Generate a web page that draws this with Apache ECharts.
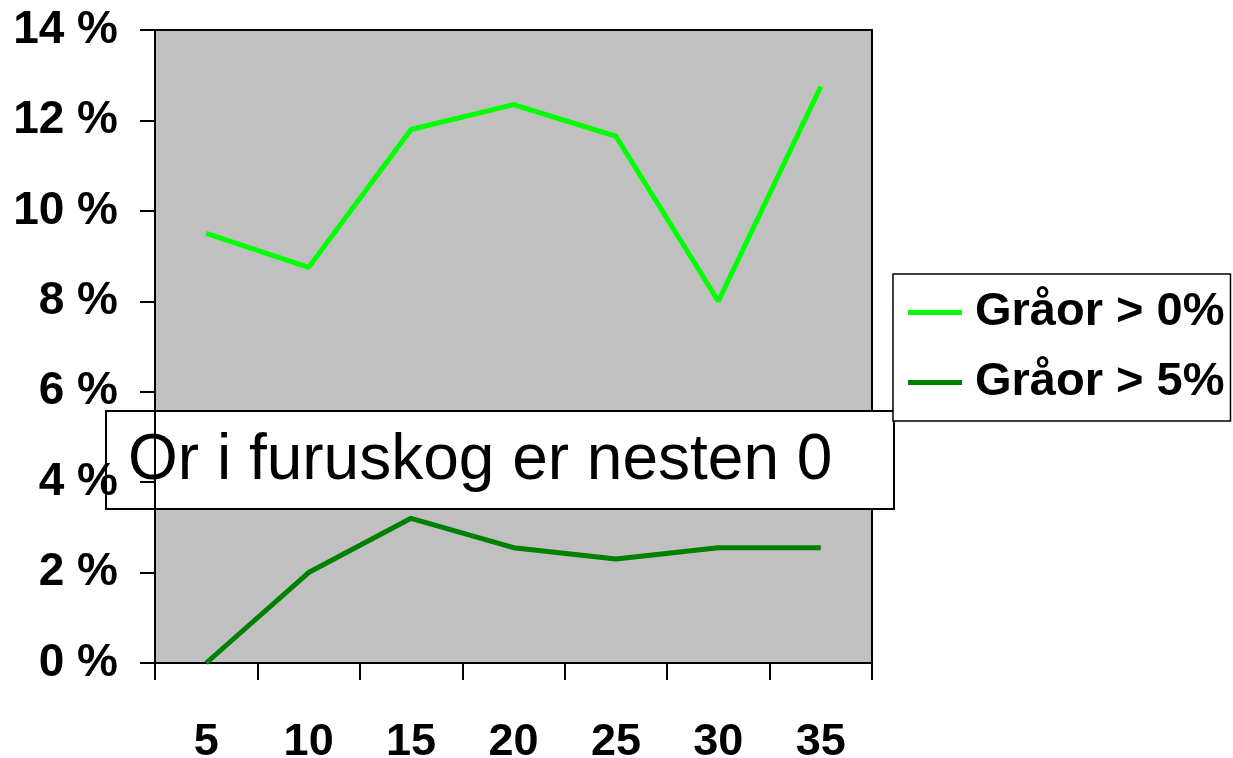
<!DOCTYPE html>
<html>
<head>
<meta charset="utf-8">
<script src="https://cdn.jsdelivr.net/npm/echarts@6/dist/echarts.min.js"></script>
<style>
  html, body { margin: 0; padding: 0; background: #fff; }
  #chart { width: 1233px; height: 758px; }
</style>
</head>
<body>
<div id="chart"></div>
<script>
// data
const categories = ['5', '10', '15', '20', '25', '30', '35']
const graaorOver0 = [9.5, 8.75, 11.8, 12.35, 11.65, 8.0, 12.75]
const graaorOver5 = [0.0, 2.0, 3.2, 2.55, 2.3, 2.55, 2.55]
const seriesNames = ['Gråor > 0%', 'Gråor > 5%']
const noteText = 'Or i furuskog er nesten 0'

const font = '"Liberation Sans", Arial, sans-serif'

const chart = echarts.init(document.getElementById('chart'))

chart.setOption({
  animation: false,
  backgroundColor: '#fff',
  textStyle: { fontFamily: font },
  grid: {
    left: 155,
    top: 30,
    right: 361,
    bottom: 95,
    containLabel: false,
    outerBoundsMode: 'none',
    show: true,
    backgroundColor: '#c0c0c0',
    borderColor: '#000',
    borderWidth: 2,
  },
  legend: {
    orient: 'vertical',
    left: 893,
    top: 274,
    padding: [15, 6, 15, 15],
    itemGap: 23,
    itemWidth: 54,
    itemHeight: 5,
    icon: 'rect',
    backgroundColor: '#fff',
    borderColor: '#000',
    borderWidth: 1.5,
    textStyle: {
      fontFamily: font,
      fontSize: 47,
      fontWeight: 'bold',
      color: '#000',
      padding: [0, 0, 0, 8],
    },
    data: seriesNames,
  },
  xAxis: {
    type: 'category',
    data: categories,
    boundaryGap: true,
    axisLine: { lineStyle: { color: '#000', width: 2 } },
    axisTick: { show: true, alignWithLabel: false, interval: 0, length: 17, lineStyle: { color: '#000', width: 2 } },
    axisLabel: {
      margin: 57,
      fontSize: 45,
      fontWeight: 'bold',
      color: '#000',
      fontFamily: font,
    },
    splitLine: { show: false },
  },
  yAxis: {
    type: 'value',
    min: 0,
    max: 14,
    interval: 2,
    axisLine: { show: true, lineStyle: { color: '#000', width: 2 } },
    axisTick: { show: true, length: 15, lineStyle: { color: '#000', width: 2 } },
    axisLabel: {
      margin: 37,
      fontSize: 46,
      fontWeight: 'bold',
      color: '#000',
      fontFamily: font,
      formatter: '{value} %',
    },
    splitLine: { show: false },
  },
  series: [
    {
      name: seriesNames[0],
      type: 'line',
      data: graaorOver0,
      symbol: 'none',
      itemStyle: { color: '#00ff00' },
      lineStyle: { color: '#00ff00', width: 5 },
    },
    {
      name: seriesNames[1],
      type: 'line',
      data: graaorOver5,
      symbol: 'none',
      itemStyle: { color: '#008000' },
      lineStyle: { color: '#008000', width: 5 },
    },
  ],
  graphic: [
    {
      type: 'group',
      left: 105,
      top: 410,
      z: 100,
      children: [
        {
          type: 'rect',
          shape: { x: 0, y: 0, width: 788, height: 98 },
          style: { fill: '#fff', stroke: '#000', lineWidth: 2 },
        },
        {
          type: 'text',
          left: 22,
          top: 18,
          style: {
            text: noteText,
            fontFamily: font,
            fontSize: 64,
            fill: '#000',
          },
        },
      ],
    },
  ],
})

window.addEventListener('resize', () => chart.resize())
</script>
</body>
</html>
